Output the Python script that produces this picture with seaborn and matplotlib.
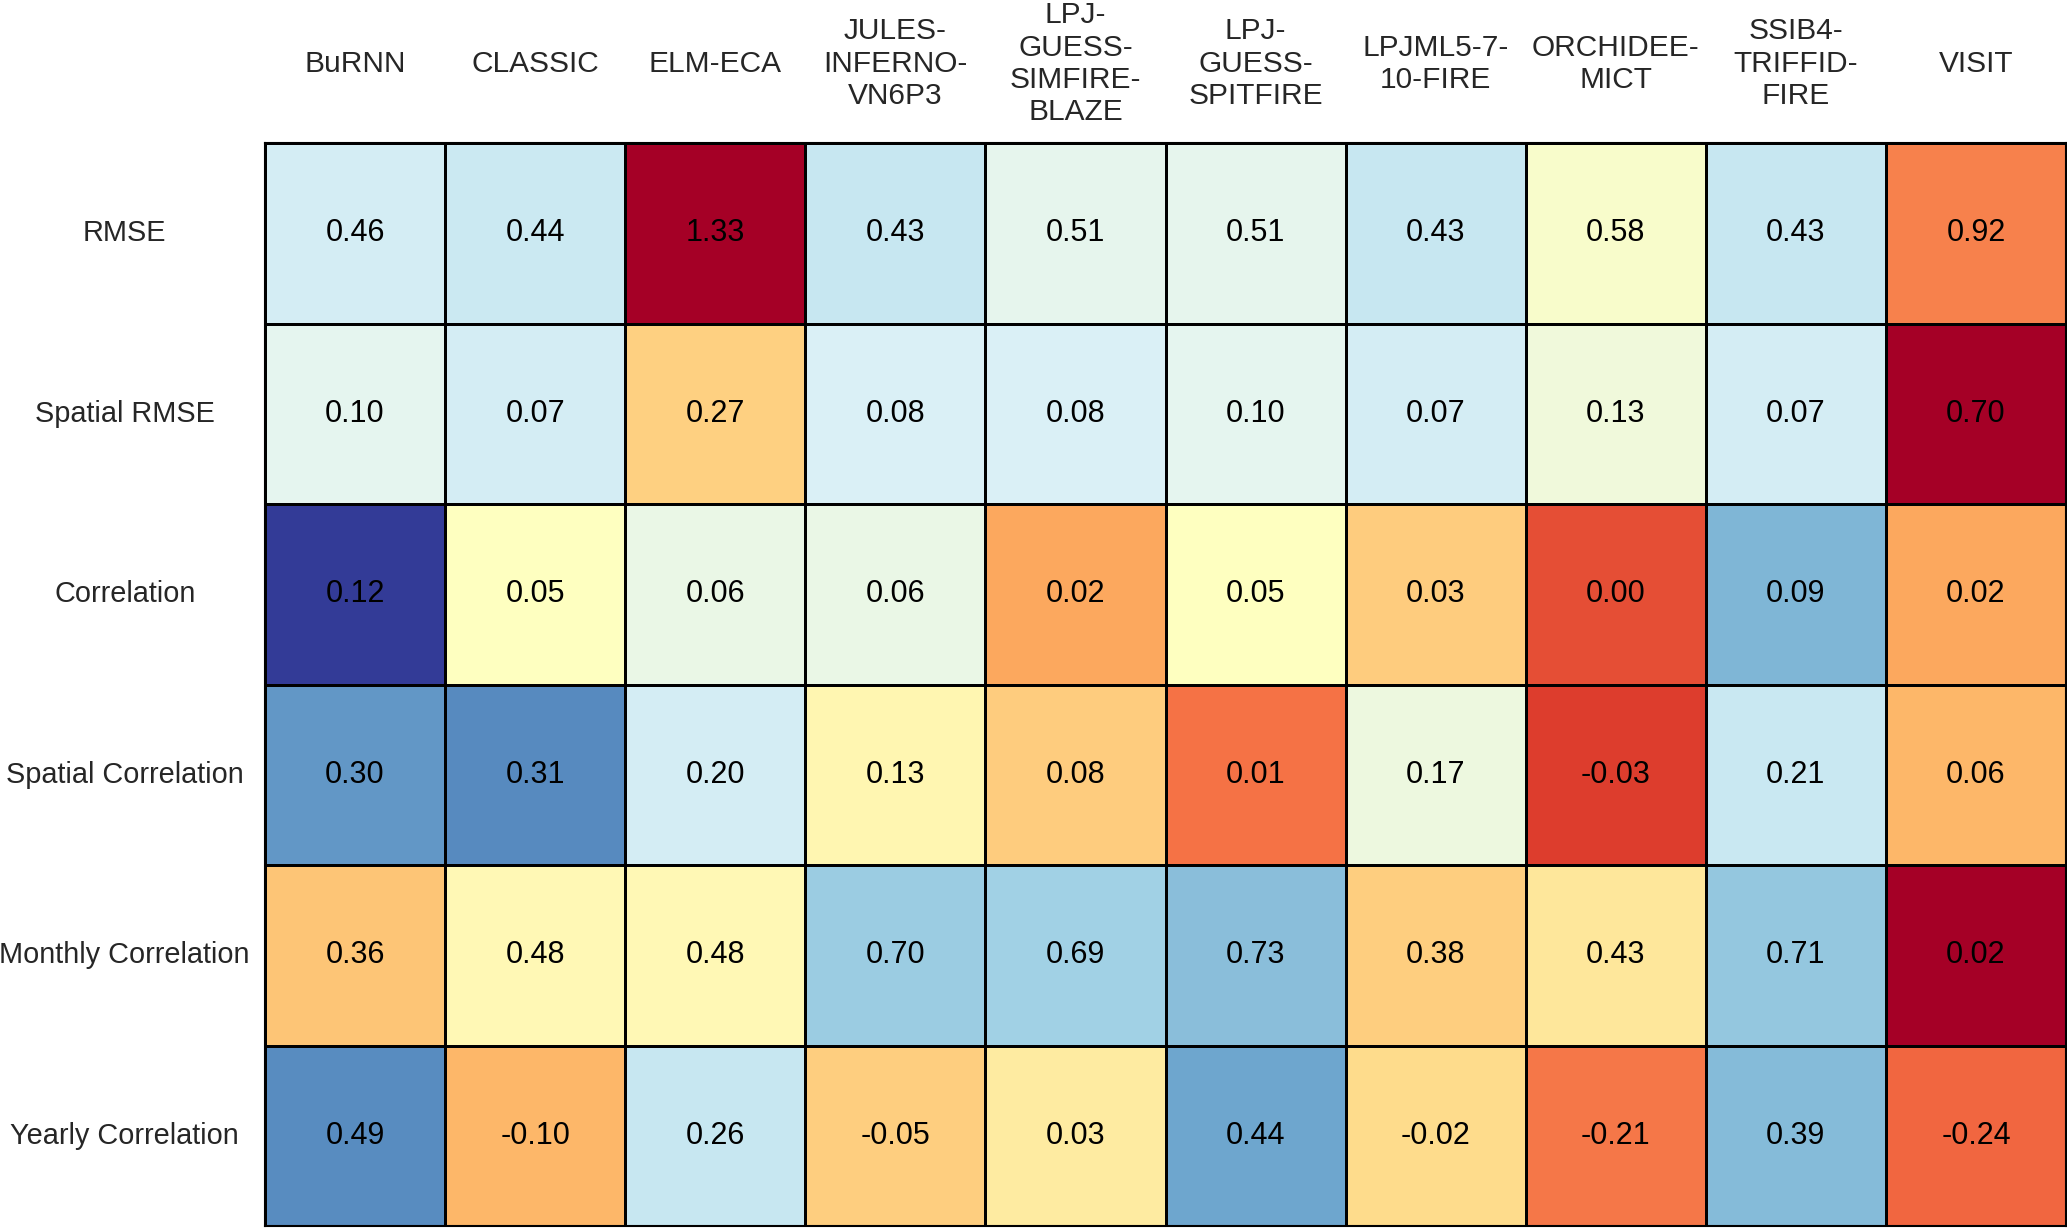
import numpy as np
import pandas as pd
import matplotlib
matplotlib.use("Agg")
import matplotlib.pyplot as plt
import seaborn as sns

# models (columns) and metrics (rows)
models = ["BuRNN", "CLASSIC", "ELM-ECA", "JULES-\nINFERNO-\nVN6P3", "LPJ-\nGUESS-\nSIMFIRE-\nBLAZE",
          "LPJ-\nGUESS-\nSPITFIRE", "LPJML5-7-\n10-FIRE", "ORCHIDEE-\nMICT", "SSIB4-\nTRIFFID-\nFIRE", "VISIT"]
metrics = ["RMSE", "Spatial RMSE", "Correlation", "Spatial Correlation", "Monthly Correlation", "Yearly Correlation"]

rmse = [0.46, 0.44, 1.33, 0.43, 0.51, 0.51, 0.43, 0.58, 0.43, 0.92]
spatial_rmse = [0.10, 0.07, 0.27, 0.08, 0.08, 0.10, 0.07, 0.13, 0.07, 0.70]
correlation = [0.12, 0.05, 0.06, 0.06, 0.02, 0.05, 0.03, 0.00, 0.09, 0.02]
spatial_corr = [0.30, 0.31, 0.20, 0.13, 0.08, 0.01, 0.17, -0.03, 0.21, 0.06]
monthly_corr = [0.36, 0.48, 0.48, 0.70, 0.69, 0.73, 0.38, 0.43, 0.71, 0.02]
yearly_corr = [0.49, -0.10, 0.26, -0.05, 0.03, 0.44, -0.02, -0.21, 0.39, -0.24]

# lower is better for these rows, so their colour is flipped
lower_better = ["RMSE", "Spatial RMSE"]

values = pd.DataFrame([rmse, spatial_rmse, correlation, spatial_corr, monthly_corr, yearly_corr],
                      index=metrics, columns=models)

# colour by row-wise z-score
scores = values.sub(values.mean(axis=1), axis=0).div(values.std(axis=1), axis=0)
scores.loc[lower_better] = -scores.loc[lower_better]

sns.set_style("white")
plt.rcParams['font.family'] = ['Liberation Sans', 'DejaVu Sans']

fig = plt.figure(figsize=(20.67, 12.28), dpi=100)
ax = fig.add_axes([265 / 2067, 2 / 1228, 1801 / 2067, 1083 / 1228])

sns.heatmap(scores, ax=ax, cmap="RdYlBu", vmin=-2, vmax=2, cbar=False,
            annot=values, fmt=".2f", annot_kws={"color": "black", "fontsize": 22},
            linewidths=0.8, linecolor="black")

for s in ax.spines.values():
    s.set_visible(True)
    s.set_color("black")
    s.set_linewidth(1.5)

ax.xaxis.tick_top()
ax.set_xticklabels(models, rotation=0, fontsize=21.5, ha="center", va="center", multialignment="center")
ax.tick_params(axis="x", length=0, pad=57)
ax.set_yticklabels(metrics, rotation=0, fontsize=20.8, ha="center", va="center")
ax.tick_params(axis="y", length=0, pad=101)
ax.set_xlabel("")
ax.set_ylabel("")

fig.savefig("out.png", dpi=100)
